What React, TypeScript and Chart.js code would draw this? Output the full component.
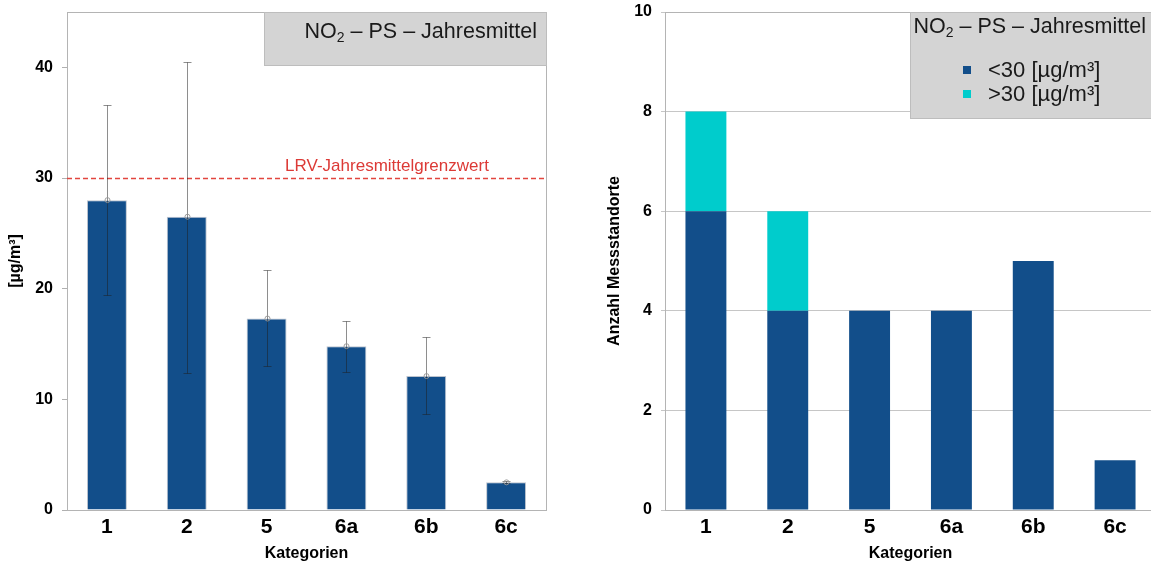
import React, { useEffect, useRef } from 'react';
import { Chart, registerables } from 'chart.js';

Chart.register(...registerables);

const categories = ['1', '2', '5', '6a', '6b', '6c'];
const meanValues = [28.0, 26.5, 17.3, 14.8, 12.1, 2.5];
const errorLow = [19.4, 12.4, 13.0, 12.5, 8.7, 2.4];
const errorHigh = [36.6, 40.5, 21.7, 17.1, 15.6, 2.6];
const limitValue = 30;
const limitLabel = 'LRV-Jahresmittelgrenzwert';
const leftYTicks = [0, 10, 20, 30, 40];
const leftYMax = 45;
const countBelow = [6, 4, 4, 4, 5, 1];
const countAbove = [2, 2, 0, 0, 0, 0];
const rightYTicks = [0, 2, 4, 6, 8, 10];
const seriesLabels = ['<30 [µg/m³]', '>30 [µg/m³]'];
const titleMain = 'NO';
const titleSub = '2';
const titleRest = ' – PS – Jahresmittel';
const leftYTitle = '[µg/m³]';
const rightYTitle = 'Anzahl Messstandorte';
const xTitle = 'Kategorien';

const FONT = '"Liberation Sans", Arial, sans-serif';
const BLUE = '#124e8a';
const CYAN = '#00cccc';
const BOX_FILL = '#d4d4d4';
const BOX_STROKE = '#bdbdbd';
const FRAME = '#b4b4b4';

function drawTitle(ctx: CanvasRenderingContext2D, x: number, y: number, size: number, align: 'left' | 'right') {
  ctx.save();
  const big = `${size}px ${FONT}`;
  const small = `${Math.round(size * 0.66)}px ${FONT}`;
  ctx.font = big;
  const w1 = ctx.measureText(titleMain).width;
  const w3 = ctx.measureText(titleRest).width;
  ctx.font = small;
  const w2 = ctx.measureText(titleSub).width;
  const total = w1 + w2 + w3;
  const sx = align === 'right' ? x - total : x;
  ctx.fillStyle = '#1a1a1a';
  ctx.textBaseline = 'middle';
  ctx.textAlign = 'left';
  ctx.font = big;
  ctx.fillText(titleMain, sx, y);
  ctx.font = small;
  ctx.fillText(titleSub, sx + w1, y + size * 0.3);
  ctx.font = big;
  ctx.fillText(titleRest, sx + w1 + w2, y);
  ctx.restore();
}

function zeroPad(s: any) {
  s.paddingTop = 0;
  s.paddingBottom = 0;
  s.paddingLeft = 0;
  s.paddingRight = 0;
}

function xAxis() {
  return {
    grid: { display: false, drawTicks: false },
    border: { display: false },
    ticks: { color: '#000', font: { family: FONT, size: 21, weight: 'bold' as const }, padding: 5 },
    title: {
      display: true,
      text: xTitle,
      color: '#000',
      font: { family: FONT, size: 16, weight: 'bold' as const },
      padding: { top: 0, bottom: 6 },
    },
    afterFit: (s: any) => { s.height = 59; zeroPad(s); },
  };
}

const leftPlugin = {
  id: 'leftDecor',
  afterDatasetsDraw(chart: any) {
    const { ctx, chartArea, scales } = chart;
    const x = scales.x, y = scales.y;
    ctx.save();
    // frame
    ctx.strokeStyle = FRAME;
    ctx.lineWidth = 1;
    ctx.strokeRect(Math.round(chartArea.left) + 0.5, Math.round(chartArea.top) + 0.5,
      Math.round(chartArea.right - chartArea.left), Math.round(chartArea.bottom - chartArea.top));
    // limit line
    const ly = Math.round(y.getPixelForValue(limitValue)) + 0.5;
    ctx.strokeStyle = '#e2463f';
    ctx.lineWidth = 1.3;
    ctx.setLineDash([5, 3]);
    ctx.beginPath();
    ctx.moveTo(chartArea.left, ly);
    ctx.lineTo(chartArea.right, ly);
    ctx.stroke();
    ctx.setLineDash([]);
    ctx.fillStyle = '#dc3a36';
    ctx.font = `17px ${FONT}`;
    ctx.textAlign = 'center';
    ctx.textBaseline = 'middle';
    ctx.fillText(limitLabel, 387, ly - 12);
    // error bars
    categories.forEach((_, i) => {
      const px = Math.round(x.getPixelForValue(i)) + 0.5;
      const yHi = Math.round(y.getPixelForValue(errorHigh[i])) + 0.5;
      const yLo = Math.round(y.getPixelForValue(errorLow[i])) + 0.5;
      const yM = y.getPixelForValue(meanValues[i]);
      ctx.strokeStyle = 'rgba(30,30,30,0.5)';
      ctx.lineWidth = 1;
      ctx.beginPath();
      ctx.moveTo(px, yHi); ctx.lineTo(px, yLo);
      ctx.moveTo(px - 4, yHi); ctx.lineTo(px + 4, yHi);
      ctx.moveTo(px - 4, yLo); ctx.lineTo(px + 4, yLo);
      ctx.stroke();
      ctx.beginPath();
      ctx.strokeStyle = 'rgba(150,150,150,0.9)';
      ctx.arc(px, yM, 2.5, 0, Math.PI * 2);
      ctx.stroke();
    });
    // title box
    const bx = 264, by = Math.round(chartArea.top) + 0.5;
    const bw = Math.round(chartArea.right) - bx, bh = 53;
    ctx.fillStyle = BOX_FILL;
    ctx.fillRect(bx + 0.5, by, bw, bh);
    ctx.strokeStyle = BOX_STROKE;
    ctx.strokeRect(bx + 0.5, by, bw, bh);
    ctx.restore();
    drawTitle(ctx, chartArea.right - 9, 32, 21.5, 'right');
  },
};

const rightPlugin = {
  id: 'rightDecor',
  afterDatasetsDraw(chart: any) {
    const { ctx, chartArea } = chart;
    ctx.save();
    ctx.strokeStyle = FRAME;
    ctx.lineWidth = 1;
    ctx.strokeRect(Math.round(chartArea.left) + 0.5, Math.round(chartArea.top) + 0.5,
      Math.round(chartArea.right - chartArea.left), Math.round(chartArea.bottom - chartArea.top));
    // legend box
    const bx = 330.5, by = Math.round(chartArea.top) + 0.5;
    const bw = 300, bh = 106;
    ctx.fillStyle = BOX_FILL;
    ctx.fillRect(bx, by, bw, bh);
    ctx.strokeStyle = BOX_STROKE;
    ctx.strokeRect(bx, by, bw, bh);
    ctx.restore();
    drawTitle(ctx, bx + 3, 27, 21.5, 'left');
    ctx.save();
    const rows = [70, 94];
    chart.data.datasets.forEach((ds: any, i: number) => {
      ctx.fillStyle = ds.backgroundColor;
      ctx.fillRect(383, rows[i] - 4, 8, 8);
      ctx.fillStyle = '#1a1a1a';
      ctx.font = `22px ${FONT}`;
      ctx.textAlign = 'left';
      ctx.textBaseline = 'middle';
      ctx.fillText(ds.label, 408, rows[i] + 1);
    });
    ctx.restore();
  },
};

export default function App() {
  const leftRef = useRef<HTMLCanvasElement>(null);
  const rightRef = useRef<HTMLCanvasElement>(null);

  useEffect(() => {
    const left = new Chart(leftRef.current as HTMLCanvasElement, {
      type: 'bar',
      data: {
        labels: categories,
        datasets: [{
          label: 'Jahresmittel',
          data: meanValues,
          backgroundColor: BLUE,
          borderColor: 'rgba(160,170,185,0.7)',
          borderWidth: 1,
          barPercentage: 0.5,
          categoryPercentage: 1,
        }],
      },
      options: {
        animation: false,
        responsive: false,
        maintainAspectRatio: false,
        devicePixelRatio: 1,
        layout: { padding: { top: 12, right: 29, left: 0, bottom: 0 } },
        plugins: { legend: { display: false }, tooltip: { enabled: false } },
        scales: {
          x: xAxis() as any,
          y: {
            min: 0,
            max: leftYMax,
            afterBuildTicks: (s: any) => { s.ticks = leftYTicks.map((v) => ({ value: v })); },
            grid: { drawOnChartArea: false, drawTicks: true, tickLength: 5, color: '#b0b0b0' },
            border: { display: false },
            ticks: { color: '#000', font: { family: FONT, size: 16, weight: 'bold' }, padding: 9 },
            title: {
              display: true,
              text: leftYTitle,
              color: '#000',
              font: { family: FONT, size: 16, weight: 'bold' },
              padding: { top: 6, bottom: 0 },
            },
            afterFit: (s: any) => { s.width = 67; zeroPad(s); },
          },
        },
      },
      plugins: [leftPlugin],
    });

    const right = new Chart(rightRef.current as HTMLCanvasElement, {
      type: 'bar',
      data: {
        labels: categories,
        datasets: [
          { label: seriesLabels[0], data: countBelow, backgroundColor: BLUE, barPercentage: 0.5, categoryPercentage: 1 },
          { label: seriesLabels[1], data: countAbove, backgroundColor: CYAN, barPercentage: 0.5, categoryPercentage: 1 },
        ],
      },
      options: {
        animation: false,
        responsive: false,
        maintainAspectRatio: false,
        devicePixelRatio: 1,
        layout: { padding: { top: 12, right: 4, left: 0, bottom: 0 } },
        plugins: { legend: { display: false }, tooltip: { enabled: false } },
        scales: {
          x: { ...(xAxis() as any), stacked: true },
          y: {
            stacked: true,
            min: 0,
            max: 10,
            afterBuildTicks: (s: any) => { s.ticks = rightYTicks.map((v) => ({ value: v })); },
            grid: { drawOnChartArea: true, drawTicks: true, tickLength: 4, color: '#c6c6c6' },
            border: { display: false },
            ticks: { color: '#000', font: { family: FONT, size: 16, weight: 'bold' }, padding: 9 },
            title: {
              display: true,
              text: rightYTitle,
              color: '#000',
              font: { family: FONT, size: 16, weight: 'bold' },
              padding: { top: 25, bottom: 0 },
            },
            afterFit: (s: any) => { s.width = 85; zeroPad(s); },
          },
        },
      },
      plugins: [rightPlugin],
    });

    return () => {
      left.destroy();
      right.destroy();
    };
  }, []);

  return (
    <div style={{ position: 'absolute', left: 0, top: 0, width: 1151, height: 569, overflow: 'hidden', background: '#fff' }}>
      <canvas ref={leftRef} width={575} height={569} style={{ position: 'absolute', left: 0, top: 0, width: 575, height: 569 }} />
      <canvas ref={rightRef} width={580} height={569} style={{ position: 'absolute', left: 580, top: 0, width: 580, height: 569 }} />
    </div>
  );
}
